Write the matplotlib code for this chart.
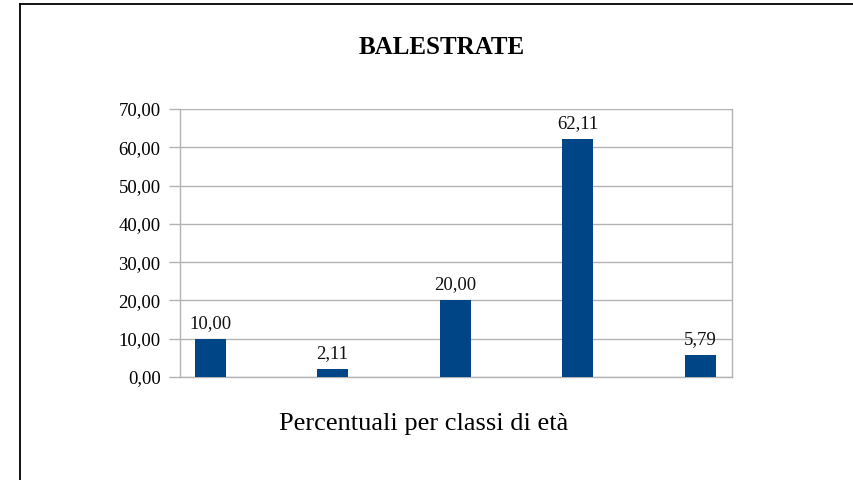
import numpy as np
import matplotlib
matplotlib.use("Agg")
import matplotlib.pyplot as plt
from matplotlib.lines import Line2D

# ── Data ──────────────────────────────────────────────────────────────────────
values = [10.00, 2.11, 20.00, 62.11, 5.79]
yticks = [0, 10, 20, 30, 40, 50, 60, 70]
title = "BALESTRATE"
xlabel = "Percentuali per classi di età"

BAR_COLOR = "#004586"
GRID_COLOR = "#b3b3b3"

plt.rcParams["font.family"] = ["Liberation Serif", "DejaVu Serif"]


def it_fmt(v):
    return f"{v:.2f}".replace(".", ",")


fig = plt.figure(figsize=(8.54, 4.8), dpi=100)
ax = fig.add_axes([180 / 854, 103 / 480, 552 / 854, 268 / 480])

x = np.arange(len(values))
bars = ax.bar(x, values, width=0.253, color=BAR_COLOR, zorder=3)

for xi, v in zip(x, values):
    ax.annotate(it_fmt(v), (xi, v), xytext=(0, 5), textcoords="offset points",
                ha="center", va="bottom", fontsize=13.5, color="#111111")

ax.set_xlim(-0.245, 4.261)
ax.set_ylim(0, 70)
ax.set_yticks(yticks)
ax.set_yticklabels([it_fmt(t) for t in yticks], fontsize=13.5)
ax.set_xticks([])
ax.tick_params(axis="y", length=8, width=1, color=GRID_COLOR, pad=6)
ax.yaxis.grid(True, color=GRID_COLOR, linewidth=1, zorder=0)

for side in ["left", "bottom", "right"]:
    ax.spines[side].set_color(GRID_COLOR)
    ax.spines[side].set_linewidth(1)
ax.spines["top"].set_visible(False)

fig.text(442 / 854, 1 - 47 / 480, title, ha="center", va="center",
         fontsize=18, fontweight="bold")
fig.text(424 / 854, 1 - 424 / 480, xlabel, ha="center", va="center",
         fontsize=19)

# outer frame (only top and left edges are inside the picture)
fig.add_artist(Line2D([20 / 854, 1], [1 - 4 / 480, 1 - 4 / 480],
                      transform=fig.transFigure, color="black", linewidth=1.3))
fig.add_artist(Line2D([20 / 854, 20 / 854], [0, 1 - 4 / 480],
                      transform=fig.transFigure, color="black", linewidth=1.3))

fig.savefig("out.png", dpi=100)
